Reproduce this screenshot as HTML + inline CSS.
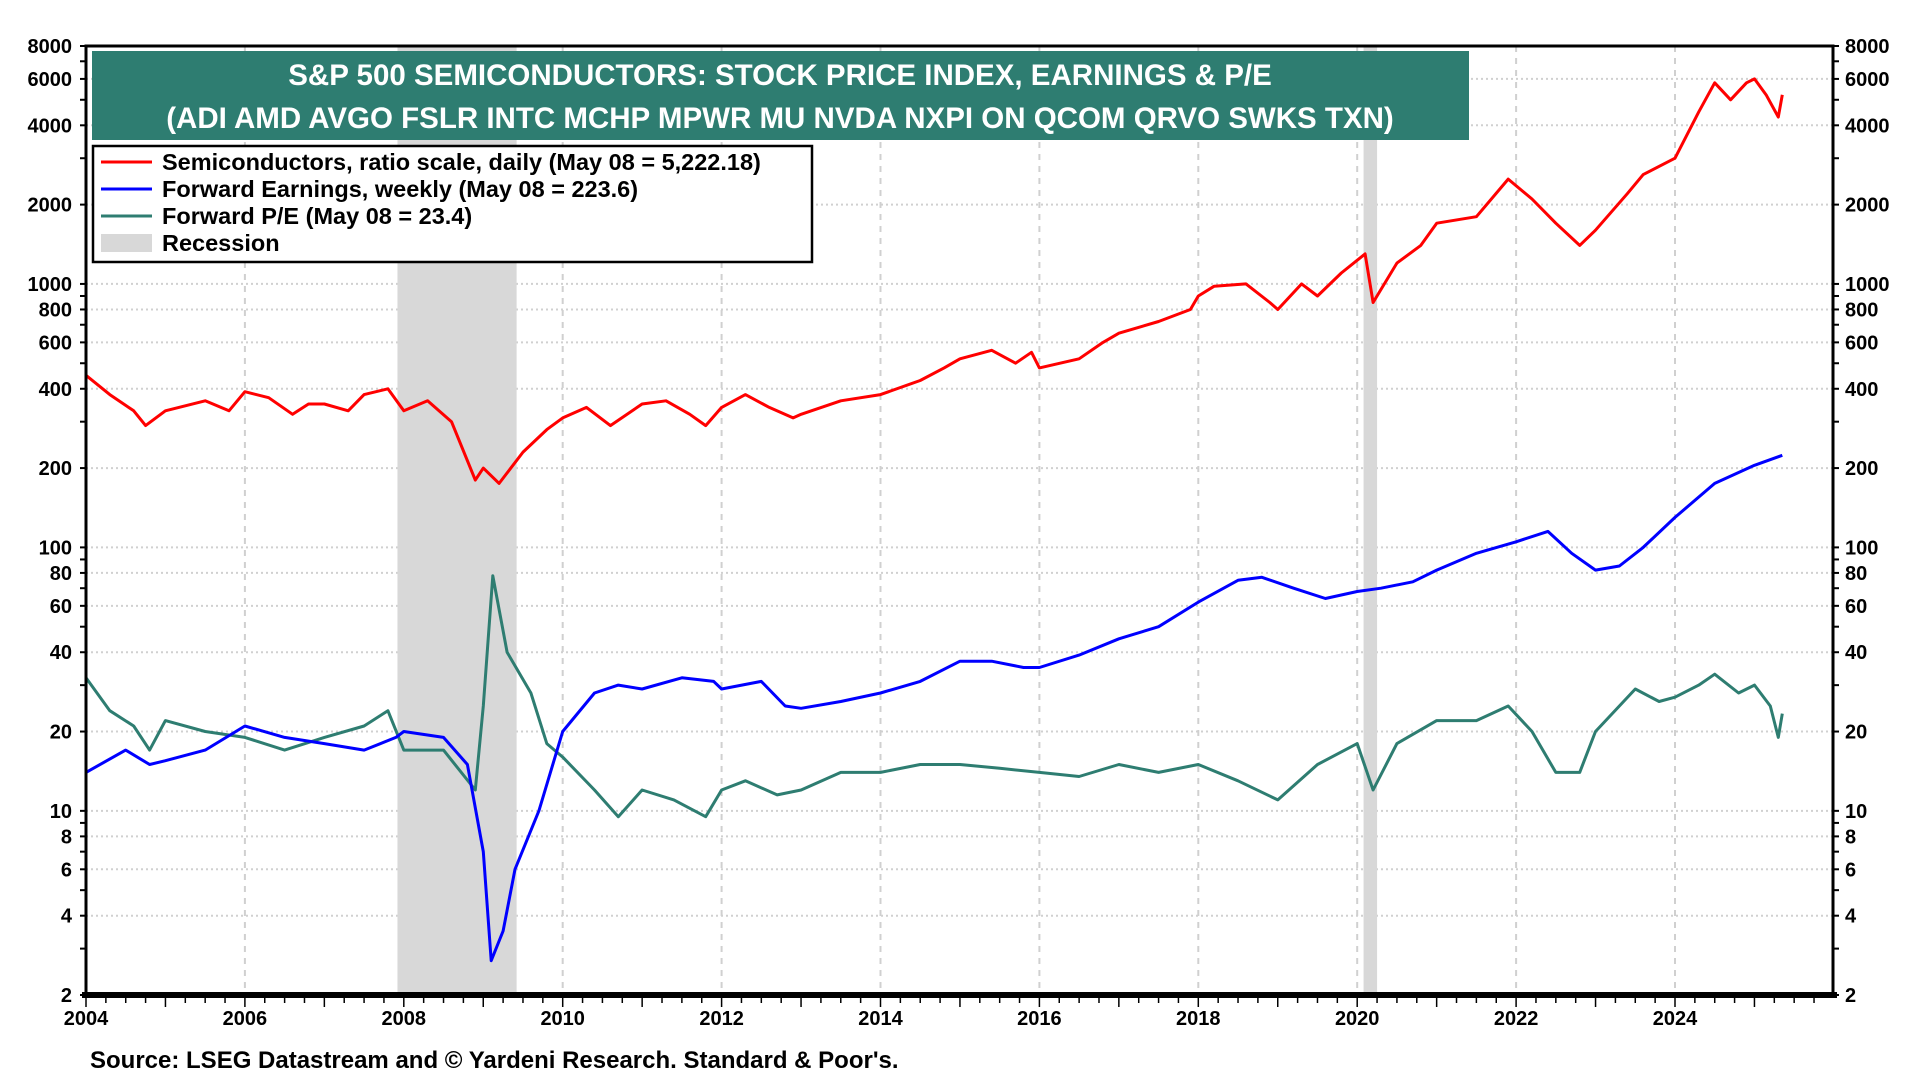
<!DOCTYPE html>
<html><head><meta charset="utf-8"><style>
html,body{margin:0;padding:0;background:#fff;}
svg{display:block;font-family:"Liberation Sans",Arial,sans-serif;font-weight:bold;}
</style></head><body>
<svg id="chart" width="1920" height="1080" viewBox="0 0 1920 1080">
<g id="grid"></g>
<g id="rec"></g>
<g id="series"></g>
<g id="axes"></g>
<rect x="92" y="51" width="1377" height="89" fill="#2e7d71"/>
<text x="780" y="85" text-anchor="middle" fill="#fff" font-size="29.5">S&amp;P 500 SEMICONDUCTORS: STOCK PRICE INDEX, EARNINGS &amp; P/E</text>
<text x="780" y="128" text-anchor="middle" fill="#fff" font-size="29.5">(ADI AMD AVGO FSLR INTC MCHP MPWR MU NVDA NXPI ON QCOM QRVO SWKS TXN)</text>
<g>
<rect x="93" y="146" width="719" height="116" fill="#fff" stroke="#000" stroke-width="2.5"/>
<line x1="101" y1="162" x2="152" y2="162" stroke="#f00" stroke-width="3"/>
<text x="162" y="170" font-size="23.5">Semiconductors, ratio scale, daily (May 08 = 5,222.18)</text>
<line x1="101" y1="189" x2="152" y2="189" stroke="#00f" stroke-width="3"/>
<text x="162" y="197" font-size="23.5">Forward Earnings, weekly (May 08 = 223.6)</text>
<line x1="101" y1="216" x2="152" y2="216" stroke="#2e7d71" stroke-width="3"/>
<text x="162" y="224" font-size="23.5">Forward P/E (May 08 = 23.4)</text>
<rect x="101" y="234" width="51" height="18" fill="#d8d8d8"/>
<text x="162" y="251" font-size="23.5">Recession</text>
</g>
<text x="90" y="1068" font-size="24">Source: LSEG Datastream and © Yardeni Research. Standard &amp; Poor's.</text>
</svg>
<script>
const priceDates=[2004.0,2004.3,2004.6,2004.75,2005.0,2005.5,2005.8,2006.0,2006.3,2006.6,2006.8,2007.0,2007.3,2007.5,2007.8,2008.0,2008.3,2008.6,2008.9,2009.0,2009.2,2009.5,2009.8,2010.0,2010.3,2010.6,2011.0,2011.3,2011.6,2011.8,2012.0,2012.3,2012.6,2012.9,2013.0,2013.5,2014.0,2014.5,2014.8,2015.0,2015.4,2015.7,2015.9,2016.0,2016.5,2016.8,2017.0,2017.5,2017.9,2018.0,2018.2,2018.6,2018.9,2019.0,2019.3,2019.5,2019.8,2020.1,2020.2,2020.5,2020.8,2021.0,2021.5,2021.9,2022.2,2022.5,2022.8,2023.0,2023.4,2023.6,2024.0,2024.3,2024.5,2024.7,2024.9,2025.0,2025.15,2025.3,2025.35];
const priceValues=[450,380,330,290,330,360,330,390,370,320,350,350,330,380,400,330,360,300,180,200,175,230,280,310,340,290,350,360,320,290,340,380,340,310,320,360,380,430,480,520,560,500,550,480,520,600,650,720,800,900,980,1000,850,800,1000,900,1100,1300,850,1200,1400,1700,1800,2500,2100,1700,1400,1600,2200,2600,3000,4500,5800,5000,5800,6000,5200,4300,5222];
const epsDates=[2004,2004.5,2004.8,2005.0,2005.5,2006.0,2006.5,2007.0,2007.5,2007.9,2008.0,2008.5,2008.8,2009.0,2009.1,2009.25,2009.4,2009.7,2010.0,2010.4,2010.7,2011.0,2011.5,2011.9,2012.0,2012.5,2012.8,2013.0,2013.5,2014.0,2014.5,2015.0,2015.4,2015.8,2016.0,2016.5,2017.0,2017.5,2018.0,2018.5,2018.8,2019.2,2019.6,2020.0,2020.3,2020.7,2021.0,2021.5,2022.0,2022.4,2022.7,2023.0,2023.3,2023.6,2024.0,2024.5,2025.0,2025.35];
const epsValues=[14,17,15,15.5,17,21,19,18,17,19,20,19,15,7,2.7,3.5,6,10,20,28,30,29,32,31,29,31,25,24.5,26,28,31,37,37,35,35,39,45,50,62,75,77,70,64,68,70,74,82,95,105,115,95,82,85,100,130,175,205,223.6];
const peDates=[2004,2004.3,2004.6,2004.8,2005.0,2005.5,2006.0,2006.5,2007.0,2007.5,2007.8,2008.0,2008.5,2008.9,2009.0,2009.12,2009.3,2009.6,2009.8,2010.0,2010.4,2010.7,2011.0,2011.4,2011.8,2012.0,2012.3,2012.7,2013.0,2013.5,2014.0,2014.5,2015.0,2015.5,2016.0,2016.5,2017.0,2017.5,2018.0,2018.5,2019.0,2019.5,2020.0,2020.2,2020.5,2021.0,2021.5,2021.9,2022.2,2022.5,2022.8,2023.0,2023.5,2023.8,2024.0,2024.3,2024.5,2024.8,2025.0,2025.2,2025.3,2025.35];
const peValues=[32,24,21,17,22,20,19,17,19,21,24,17,17,12,25,78,40,28,18,16,12,9.5,12,11,9.5,12,13,11.5,12,14,14,15,15,14.5,14,13.5,15,14,15,13,11,15,18,12,18,22,22,25,20,14,14,20,29,26,27,30,33,28,30,25,19,23.4];
const recessions=[[2007.92,2009.42],[2020.08,2020.25]];
const yTicks=[2,4,6,8,10,20,40,60,80,100,200,400,600,800,1000,2000,4000,6000,8000];
const xTickLabels=[2004,2006,2008,2010,2012,2014,2016,2018,2020,2022,2024];

const L=86,R=1833,T=46,B=995;
const X0=2004,XPY=79.45;
const x=v=>L+(v-X0)*XPY;
const y=v=>B-(Math.log10(v)-Math.log10(2))*(B-T)/(Math.log10(8000)-Math.log10(2));
const NS='http://www.w3.org/2000/svg';
function mk(tag,attrs,parent){const e=document.createElementNS(NS,tag);for(const k in attrs)e.setAttribute(k,attrs[k]);parent.appendChild(e);return e;}
const grid=document.getElementById('grid'),rec=document.getElementById('rec'),series=document.getElementById('series'),axes=document.getElementById('axes');
for(const t of yTicks){const l=mk('line',{x1:L,x2:R,y1:y(t),y2:y(t),stroke:'#d0d0d0','stroke-width':2,'stroke-dasharray':'2,3'},grid);

}
for(const t of xTickLabels){if(t===2004)continue;const l=mk('line',{x1:x(t),x2:x(t),y1:T,y2:B,stroke:'#d0d0d0','stroke-width':2,'stroke-dasharray':'6,6'},grid);

}
for(const r of recessions){const e=mk('rect',{x:x(r[0]),y:T,width:x(r[1])-x(r[0]),height:B-T,fill:'#d8d8d8'},rec);

}
function line(d,v,color,name){const p=mk('polyline',{points:d.map((t,i)=>x(t).toFixed(1)+','+y(v[i]).toFixed(1)).join(' '),fill:'none',stroke:color,'stroke-width':3,'stroke-linejoin':'round'},series);

}
line(peDates,peValues,'#2e7d71','pe-line');
line(epsDates,epsValues,'#0000ff','earnings-line');
line(priceDates,priceValues,'#ff0000','price-line');
mk('rect',{x:L,y:T,width:R-L,height:B-T,fill:'none',stroke:'#000','stroke-width':3},axes);
mk('line',{x1:L-4,x2:R+4,y1:B,y2:B,stroke:'#000','stroke-width':6},axes);
for(let dec=1;dec<=1000;dec*=10){for(let m=1;m<10;m++){const v=m*dec;if(v<2||v>8000)continue;
mk('line',{x1:L-6,x2:L,y1:y(v),y2:y(v),stroke:'#000','stroke-width':2},axes);
mk('line',{x1:R,x2:R+6,y1:y(v),y2:y(v),stroke:'#000','stroke-width':2},axes);}}
for(const t of yTicks){
const a=mk('text',{x:L-14,y:y(t)+7,'text-anchor':'end','font-size':20},axes);a.textContent=t;


const b=mk('text',{x:R+12,y:y(t)+7,'text-anchor':'start','font-size':20},axes);b.textContent=t;

}
for(let q=X0;q<=2025.75;q+=0.25){mk('line',{x1:x(q),x2:x(q),y1:B,y2:B+(Number.isInteger(q)?12:8),stroke:'#000','stroke-width':1.5},axes);}
for(const t of xTickLabels){const e=mk('text',{x:x(t),y:B+30,'text-anchor':'middle','font-size':20},axes);e.textContent=t;

}
</script>
</body></html>
